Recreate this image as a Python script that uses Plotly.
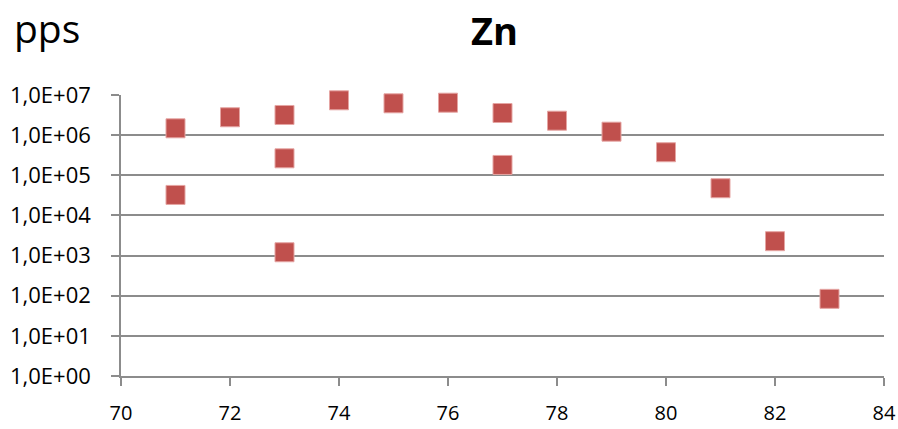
import plotly.graph_objects as go

mass = [71, 71, 72, 73, 73, 73, 74, 75, 76, 77, 77, 78, 79, 80, 81, 82, 83]
pps = [1.48e6, 3.24e4, 2.79e6, 3.18e6, 2.65e5, 1.21e3, 7.38e6, 6.21e6, 6.43e6,
       3.56e6, 1.81e5, 2.29e6, 1.22e6, 3.75e5, 4.76e4, 2.28e3, 83.6]
y_tickvals = [1, 10, 100, 1e3, 1e4, 1e5, 1e6, 1e7]
y_ticktext = ["1,0E+00", "1,0E+01", "1,0E+02", "1,0E+03", "1,0E+04",
              "1,0E+05", "1,0E+06", "1,0E+07"]
x_tickvals = [70, 72, 74, 76, 78, 80, 82, 84]

FONT = "Open Sans, Noto Sans, sans-serif"
GRID = "#8c8c8c"

fig = go.Figure()
fig.add_trace(go.Scatter(
    x=mass, y=pps, mode="markers",
    marker=dict(symbol="square", size=19, color="#C0504D",
                line=dict(color="#E5A5A3", width=1)),
    showlegend=False, cliponaxis=False,
))

fig.update_layout(
    width=898, height=429,
    margin=dict(l=121, r=14, t=95, b=53, autoexpand=False),
    paper_bgcolor="white", plot_bgcolor="white",
    font=dict(family=FONT, color="#000000", size=20),
    annotations=[
        dict(text="<b>Zn</b>", xref="paper", yref="paper", x=0.49, y=1.231,
             xanchor="center", yanchor="middle", showarrow=False,
             font=dict(size=38, family=FONT)),
        dict(text="pps", xref="paper", yref="paper", x=-0.143, y=1.24,
             xanchor="left", yanchor="middle", showarrow=False,
             font=dict(size=39, family=FONT)),
    ],
)

fig.update_xaxes(
    range=[70, 84], tickvals=x_tickvals, showgrid=False, zeroline=False,
    showline=True, linecolor=GRID, linewidth=1.5, automargin=False,
    ticks="outside", ticklen=8, tickcolor=GRID, tickwidth=1.5,
    ticklabelstandoff=10, tickfont=dict(size=20),
)
fig.update_yaxes(
    type="log", range=[0, 7], tickvals=y_tickvals, ticktext=y_ticktext,
    showgrid=True, gridcolor=GRID, gridwidth=1.5, zeroline=False,
    showline=True, linecolor=GRID, linewidth=1.5, automargin=False,
    ticks="outside", ticklen=8, tickcolor=GRID, tickwidth=1.5,
    ticklabelstandoff=16, tickfont=dict(size=22),
)

fig.write_html("out.html", config={"displayModeBar": False},
               post_script="document.body.style.margin='0';")
